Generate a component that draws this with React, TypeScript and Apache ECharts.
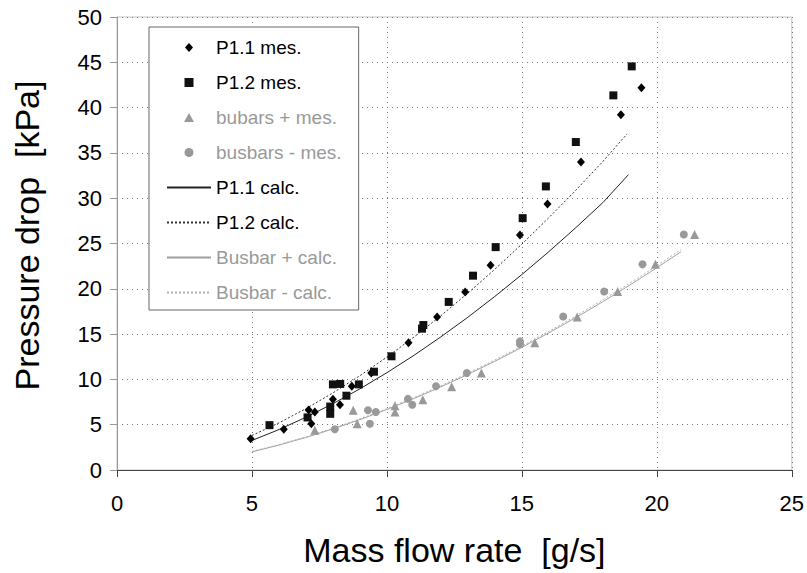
import React, { useEffect, useRef } from "react";
import * as echarts from "echarts";

// ---- data ----
const p11MesX = [4.95, 6.18, 7.1, 7.2, 7.33, 8.0, 8.26, 8.7, 9.42, 10.8, 11.86, 12.9, 13.84, 14.93, 15.95, 17.19, 18.67, 19.43];
const p11MesY = [3.45, 4.5, 6.62, 5.1, 6.4, 7.8, 7.2, 9.25, 10.7, 14.05, 16.9, 19.65, 22.6, 25.95, 29.35, 34.0, 39.2, 42.2];

const p12MesX = [5.65, 7.06, 7.9, 7.9, 8.0, 8.27, 8.5, 8.96, 9.52, 10.17, 11.3, 11.35, 12.29, 13.19, 14.03, 15.03, 15.89, 17.0, 18.39, 19.07];
const p12MesY = [4.95, 5.8, 6.2, 7.0, 9.45, 9.5, 8.2, 9.45, 10.85, 12.55, 15.6, 16.0, 18.55, 21.45, 24.6, 27.8, 31.3, 36.2, 41.35, 44.55];

const busPlusMesX = [7.33, 8.75, 8.9, 10.3, 10.3, 11.33, 12.4, 13.5, 15.48, 17.05, 18.55, 19.95, 21.4];
const busPlusMesY = [4.4, 6.6, 5.1, 7.1, 6.4, 7.75, 9.2, 10.7, 14.05, 16.9, 19.7, 22.7, 26.0];

const busMinusMesX = [8.07, 9.3, 9.37, 9.59, 10.78, 10.94, 11.82, 12.96, 14.93, 14.93, 16.53, 18.05, 19.47, 21.0];
const busMinusMesY = [4.5, 6.6, 5.1, 6.4, 7.85, 7.2, 9.25, 10.7, 14.2, 13.9, 16.95, 19.7, 22.7, 26.0];

const p11CalcX = [5, 6, 7, 8, 9, 10, 11, 12, 13, 14, 15, 16, 17, 18, 18.95];
const p11CalcY = [3.26, 4.46, 5.82, 7.32, 8.96, 10.74, 12.65, 14.7, 16.86, 19.16, 21.57, 24.1, 26.75, 29.51, 32.6];

const p12CalcX = [5, 6, 7, 8, 9, 10, 11, 12, 13, 14, 15, 16, 17, 18, 18.9];
const p12CalcY = [3.81, 5.2, 6.77, 8.51, 10.41, 12.46, 14.67, 17.03, 19.52, 22.16, 24.93, 27.85, 30.88, 34.05, 37.1];

const busPlusCalcX = [5, 6, 7, 8, 9, 10, 11, 12, 13, 14, 15, 16, 17, 18, 19, 20, 20.9];
const busPlusCalcY = [2.0, 2.75, 3.59, 4.53, 5.56, 6.68, 7.89, 9.18, 10.55, 12.0, 13.53, 15.14, 16.82, 18.58, 20.41, 22.32, 24.1];

const busMinusCalcX = [5, 6, 7, 8, 9, 10, 11, 12, 13, 14, 15, 16, 17, 18, 19, 20, 20.9];
const busMinusCalcY = [2.05, 2.8, 3.65, 4.6, 5.64, 6.77, 7.99, 9.29, 10.68, 12.14, 13.68, 15.3, 17.0, 18.78, 20.62, 22.54, 24.35];

const xTicks = [0, 5, 10, 15, 20, 25];
const yTicks = [0, 5, 10, 15, 20, 25, 30, 35, 40, 45, 50];

const zip = (xs: number[], ys: number[]) => xs.map((x, i) => [x, ys[i]]);

const FONT = "'Liberation Sans', Arial, Helvetica, sans-serif";
const GRAY = "#999999";

const ICON_DIAMOND = "path://M0.5,0L1,0.56L0.5,1.12L0,0.56Z";
const ICON_SQUARE = "path://M0,0L1,0L1,1L0,1Z";
const ICON_TRIANGLE = "path://M0.5,0L1,0.9L0,0.9Z";
const ICON_CIRCLE = "path://M1,0.5A0.5,0.5,0,1,1,0,0.5A0.5,0.5,0,1,1,1,0.5Z";

export default function App() {
  const ref = useRef<HTMLDivElement>(null);

  useEffect(() => {
    if (!ref.current) return;
    const chart = echarts.init(ref.current, undefined, { renderer: "svg" });

    const lineSeries = (name: string, xs: number[], ys: number[], color: string, type: any) => ({
      name,
      type: "line",
      data: zip(xs, ys),
      symbol: "none",
      showSymbol: false,
      smooth: false,
      lineStyle: { color, width: 1, type },
      itemStyle: { color },
      z: 2,
    });
    const scatterSeries = (name: string, xs: number[], ys: number[], color: string, symbol: string, size: any) => ({
      name,
      type: "scatter",
      data: zip(xs, ys),
      symbol,
      symbolSize: size,
      itemStyle: { color, opacity: 1 },
      z: 3,
    });

    const hiddenSymbol = { opacity: 0 };

    chart.setOption({
      animation: false,
      backgroundColor: "#ffffff",
      textStyle: { fontFamily: FONT },
      grid: {
        left: 117,
        right: 14,
        top: 17,
        bottom: 103,
        show: true,
        borderColor: "#c4c4c4",
        borderWidth: 1,
        backgroundColor: "transparent",
      },
      legend: {
        orient: "vertical",
        left: 149,
        top: 27,
        padding: [11, 17, 8, 17],
        itemWidth: 44,
        itemHeight: 9,
        itemGap: 16,
        borderColor: "#666666",
        borderWidth: 1,
        backgroundColor: "#ffffff",
        textStyle: { fontFamily: FONT, fontSize: 19, lineHeight: 19, color: "#000" },
        data: [
          { name: "P1.1 mes.", icon: ICON_DIAMOND, textStyle: { color: "#000" } },
          { name: "P1.2 mes.", icon: ICON_SQUARE, textStyle: { color: "#000" } },
          { name: "bubars + mes.", icon: ICON_TRIANGLE, textStyle: { color: GRAY } },
          { name: "busbars - mes.", icon: ICON_CIRCLE, textStyle: { color: GRAY } },
          { name: "P1.1 calc.", itemStyle: hiddenSymbol, textStyle: { color: "#000" } },
          { name: "P1.2 calc.", itemStyle: hiddenSymbol, textStyle: { color: "#000" } },
          { name: "Busbar + calc.", itemStyle: hiddenSymbol, textStyle: { color: GRAY } },
          { name: "Busbar - calc.", itemStyle: hiddenSymbol, textStyle: { color: GRAY } },
        ],
      },
      xAxis: {
        type: "value",
        min: xTicks[0],
        max: xTicks[xTicks.length - 1],
        interval: 5,
        name: "Mass flow rate  [g/s]",
        nameLocation: "middle",
        nameGap: 63,
        nameTextStyle: { fontFamily: FONT, fontSize: 34, color: "#000" },
        axisLine: { show: true, onZero: false, lineStyle: { color: "#444", width: 1 } },
        axisTick: { show: true, length: 7, lineStyle: { color: "#444" } },
        axisLabel: { fontFamily: FONT, fontSize: 22, color: "#000", margin: 22 },
        splitLine: { show: true, lineStyle: { color: "#777", type: [1, 4], width: 1 } },
      },
      yAxis: {
        type: "value",
        min: yTicks[0],
        max: yTicks[yTicks.length - 1],
        interval: 5,
        name: "Pressure drop  [kPa]",
        nameLocation: "middle",
        nameGap: 73,
        nameRotate: 90,
        nameTextStyle: { fontFamily: FONT, fontSize: 34, color: "#000", padding: [0, 0, 0, 16] },
        axisLine: { show: true, onZero: false, lineStyle: { color: "#999", width: 1 } },
        axisTick: { show: true, length: 7, lineStyle: { color: "#999" } },
        axisLabel: { fontFamily: FONT, fontSize: 22, color: "#000", margin: 15 },
        splitLine: { show: true, lineStyle: { color: "#777", type: [1, 4], width: 1 } },
      },
      series: [
        lineSeries("P1.1 calc.", p11CalcX, p11CalcY, "#222222", "solid"),
        lineSeries("P1.2 calc.", p12CalcX, p12CalcY, "#333333", [2, 2]),
        lineSeries("Busbar + calc.", busPlusCalcX, busPlusCalcY, "#a0a0a0", "solid"),
        lineSeries("Busbar - calc.", busMinusCalcX, busMinusCalcY, "#b0b0b0", [2, 2]),
        scatterSeries("P1.1 mes.", p11MesX, p11MesY, "#000000", "diamond", [8, 9]),
        scatterSeries("P1.2 mes.", p12MesX, p12MesY, "#111111", "rect", 8),
        scatterSeries("bubars + mes.", busPlusMesX, busPlusMesY, GRAY, "triangle", 9),
        scatterSeries("busbars - mes.", busMinusMesX, busMinusMesY, GRAY, "circle", 8),
      ],
    });

    return () => chart.dispose();
  }, []);

  return (
    <div
      ref={ref}
      style={{ position: "absolute", left: 0, top: 0, width: 807, height: 573, background: "#fff" }}
    />
  );
}
